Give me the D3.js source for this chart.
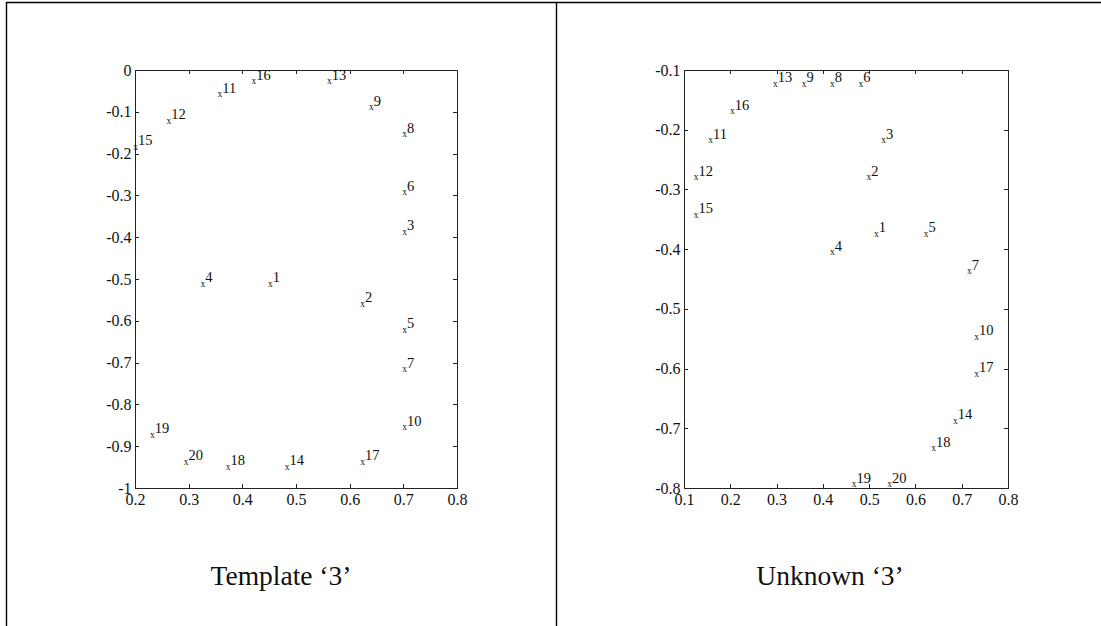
<!DOCTYPE html>
<html>
<head>
<meta charset="utf-8">
<script src="https://cdn.jsdelivr.net/npm/d3@7"></script>
<style>
  body { margin: 0; background: #fff; }
  svg { display: block; }
  .axis path, .axis line { stroke: #222; stroke-width: 1; shape-rendering: crispEdges; }
  .axis text { font-family: "Liberation Serif", serif; font-size: 16px; fill: #111; }
  .pt { font-family: "Liberation Serif", serif; fill: #111; }
  .title { font-family: "Liberation Serif", serif; font-size: 27.5px; fill: #111; }
</style>
</head>
<body>
<svg id="chart" width="1101" height="626"></svg>
<script>
// point numbers (same order for both panels)
const pointIds = [1, 2, 3, 4, 5, 6, 7, 8, 9, 10, 11, 12, 13, 14, 15, 16, 17, 18, 19, 20];

// template '3'
const templateX = [0.452, 0.624, 0.702, 0.326, 0.702, 0.702, 0.702, 0.702, 0.640, 0.702,
                   0.358, 0.263, 0.562, 0.483, 0.201, 0.421, 0.624, 0.373, 0.232, 0.295];
const templateY = [-0.514, -0.562, -0.389, -0.514, -0.624, -0.295, -0.718, -0.156, -0.092, -0.857,
                   -0.060, -0.124, -0.029, -0.951, -0.186, -0.029, -0.939, -0.951, -0.875, -0.939];

// unknown '3'
const unknownX = [0.515, 0.499, 0.531, 0.420, 0.623, 0.482, 0.716, 0.420, 0.359, 0.732,
                  0.157, 0.126, 0.297, 0.686, 0.126, 0.204, 0.732, 0.639, 0.467, 0.544];
const unknownY = [-0.376, -0.281, -0.219, -0.407, -0.376, -0.125, -0.439, -0.125, -0.125, -0.548,
                  -0.219, -0.281, -0.125, -0.689, -0.344, -0.171, -0.610, -0.735, -0.795, -0.795];

// ticks
const templateXTicks = [0.2, 0.3, 0.4, 0.5, 0.6, 0.7, 0.8];
const templateYTicks = [0, -0.1, -0.2, -0.3, -0.4, -0.5, -0.6, -0.7, -0.8, -0.9, -1];
const unknownXTicks = [0.1, 0.2, 0.3, 0.4, 0.5, 0.6, 0.7, 0.8];
const unknownYTicks = [-0.1, -0.2, -0.3, -0.4, -0.5, -0.6, -0.7, -0.8];

const titles = ["Template \u20183\u2019", "Unknown \u20183\u2019"];

const svg = d3.select("#chart");

// outer frame: top rule, left rule, middle divider
const frame = svg.append("g").attr("stroke", "#000").attr("stroke-width", 1.4);
frame.append("line").attr("x1", 6).attr("x2", 1101).attr("y1", 2.5).attr("y2", 2.5);
frame.append("line").attr("x1", 6.5).attr("x2", 6.5).attr("y1", 2).attr("y2", 626);
frame.append("line").attr("x1", 556.5).attr("x2", 556.5).attr("y1", 2).attr("y2", 626);

const panels = [
  { xs: templateX, ys: templateY, xTicks: templateXTicks, yTicks: templateYTicks,
    left: 135, right: 457, top: 70, bottom: 488, titleX: 281, title: titles[0] },
  { xs: unknownX, ys: unknownY, xTicks: unknownXTicks, yTicks: unknownYTicks,
    left: 684, right: 1008, top: 70, bottom: 488, titleX: 830, title: titles[1] }
];

const fmt = d => String(d);

panels.forEach(p => {
  const x = d3.scaleLinear()
    .domain(d3.extent(p.xTicks))
    .range([p.left, p.right]);
  const y = d3.scaleLinear()
    .domain(d3.extent(p.yTicks))
    .range([p.bottom, p.top]);

  const g = svg.append("g");

  g.append("g").attr("class", "axis")
    .attr("transform", "translate(0," + p.bottom + ")")
    .call(d3.axisBottom(x).tickValues(p.xTicks).tickFormat(fmt).tickSizeInner(-4).tickSizeOuter(0).tickPadding(6));
  g.append("g").attr("class", "axis")
    .attr("transform", "translate(0," + p.top + ")")
    .call(d3.axisTop(x).tickValues(p.xTicks).tickFormat("").tickSizeInner(-4).tickSizeOuter(0));
  g.append("g").attr("class", "axis")
    .attr("transform", "translate(" + p.left + ",0)")
    .call(d3.axisLeft(y).tickValues(p.yTicks).tickFormat(fmt).tickSizeInner(-4).tickSizeOuter(0).tickPadding(3.5));
  g.append("g").attr("class", "axis")
    .attr("transform", "translate(" + p.right + ",0)")
    .call(d3.axisRight(y).tickValues(p.yTicks).tickFormat("").tickSizeInner(-4).tickSizeOuter(0));

  // little "x" marker with the point number as a superscript
  const pts = g.selectAll(".pt")
    .data(pointIds.map((id, i) => ({ id: id, x: p.xs[i], y: p.ys[i] })))
    .enter()
    .append("text")
    .attr("class", "pt")
    .attr("x", d => x(d.x) - 2.2)
    .attr("y", d => y(d.y) + 2);
  pts.append("tspan").attr("font-size", 9.5).text("x");
  pts.append("tspan").attr("font-size", 14.5).attr("dy", -4.5).text(d => d.id);

  svg.append("text")
    .attr("class", "title")
    .attr("x", p.titleX)
    .attr("y", 585)
    .attr("text-anchor", "middle")
    .text(p.title);
});
</script>
</body>
</html>
